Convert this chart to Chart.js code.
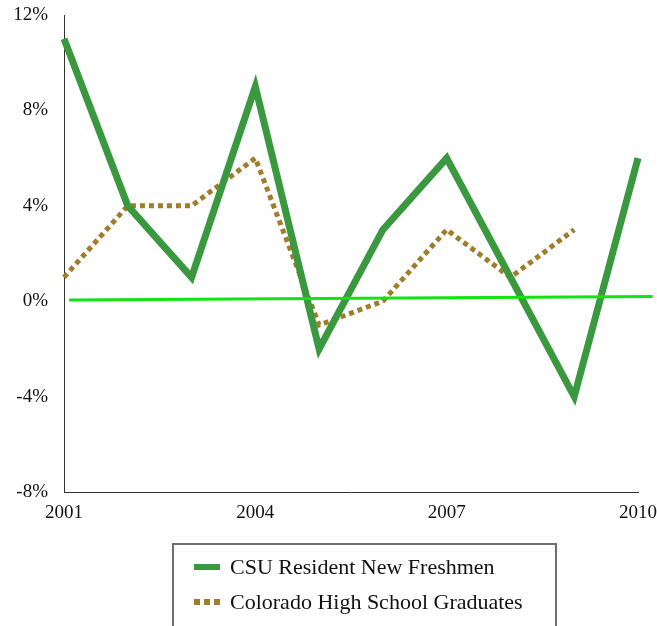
<!DOCTYPE html>
<html lang="en">
  <head>
    <meta charset="UTF-8" />
    <title>CSU Resident New Freshmen vs Colorado High School Graduates</title>
    <script src="https://cdn.jsdelivr.net/npm/chart.js"></script>
    <style>
      html, body { margin: 0; padding: 0; background: #fff; }
      #wrap { position: relative; width: 657px; height: 626px; overflow: hidden; }
      #legend {
        position: absolute; left: 172px; top: 543px; width: 385px; height: 110px;
        border: 2px solid #6e6e6e; box-sizing: border-box;
        font-family: "Liberation Serif", serif; font-size: 22px; color: #111;
      }
      .item { position: absolute; left: 20px; display: flex; align-items: center; }
      .swatch { width: 26px; height: 6px; margin-right: 10px; }
    </style>
  </head>
  <body>
    <div id="wrap">
      <canvas id="chart" width="657" height="626"></canvas>
      <div id="legend">
        <div class="item" style="top: 9px">
          <span class="swatch" style="background: #3a993f"></span>CSU Resident New Freshmen
        </div>
        <div class="item" style="top: 44px">
          <span class="swatch" style="background: repeating-linear-gradient(to right, #a17d2a 0 6px, transparent 6px 10px)"></span>Colorado High School Graduates
        </div>
      </div>
    </div>

    <script>
      const years = [2001, 2002, 2003, 2004, 2005, 2006, 2007, 2008, 2009, 2010];
      const csuFreshmen = [11, 4, 1, 9, -2, 3, 6, 1, -4, 6];
      const coloradoGrads = [1, 4, 4, 6, -1, 0, 3, 1, 3, null];
      // trend line ends
      const trendYears = [2001.08, 2010.23];
      const trendValues = [0.05, 0.2];
      const yTicks = [-8, -4, 0, 4, 8, 12];
      const xTicks = [2001, 2004, 2007, 2010];

      const toPoints = (xs, ys) => xs.map((x, i) => ({ x: x, y: ys[i] }));

      new Chart(document.getElementById("chart"), {
        type: "line",
        data: {
          datasets: [
            {
              label: "CSU Resident New Freshmen",
              data: toPoints(years, csuFreshmen),
              borderColor: "#3a993f",
              borderWidth: 7,
              borderCapStyle: "butt",
              borderJoinStyle: "miter",
              tension: 0,
              pointRadius: 0,
              clip: false,
              order: 1,
            },
            {
              label: "Colorado High School Graduates",
              data: toPoints(years, coloradoGrads),
              borderColor: "#a17d2a",
              borderWidth: 5,
              borderDash: [5, 4],
              tension: 0,
              pointRadius: 0,
              spanGaps: false,
              clip: false,
              order: 2,
            },
            {
              label: "Trend",
              data: toPoints(trendYears, trendValues),
              borderColor: "#12e312",
              borderWidth: 3,
              tension: 0,
              pointRadius: 0,
              clip: false,
              order: 0,
            },
          ],
        },
        options: {
          responsive: false,
          animation: false,
          layout: { padding: { top: 15, right: 19, left: 0, bottom: 0 } },
          plugins: { legend: { display: false }, tooltip: { enabled: false } },
          scales: {
            x: {
              type: "linear",
              min: 2001,
              max: 2010,
              afterBuildTicks: (s) => { s.ticks = xTicks.map((v) => ({ value: v })); },
              grid: { display: false, drawTicks: false },
              border: { display: true, color: "#333", width: 1 },
              ticks: {
                callback: (v) => String(v),
                color: "#111",
                padding: 10,
                maxRotation: 0,
                font: { family: "Liberation Serif", size: 19 },
              },
              afterFit: (s) => {
                s.height = 134;
                s.paddingLeft = 0;
                s.paddingRight = 0;
              },
            },
            y: {
              min: -8,
              max: 12,
              afterBuildTicks: (s) => { s.ticks = yTicks.map((v) => ({ value: v })); },
              grid: { display: false, drawTicks: false },
              border: { display: true, color: "#333", width: 1 },
              ticks: {
                callback: (v) => v + "%",
                color: "#111",
                padding: 16,
                font: { family: "Liberation Serif", size: 19 },
              },
              afterFit: (s) => {
                s.width = 64;
                s.paddingTop = 0;
                s.paddingBottom = 0;
              },
            },
          },
        },
      });
    </script>
  </body>
</html>
